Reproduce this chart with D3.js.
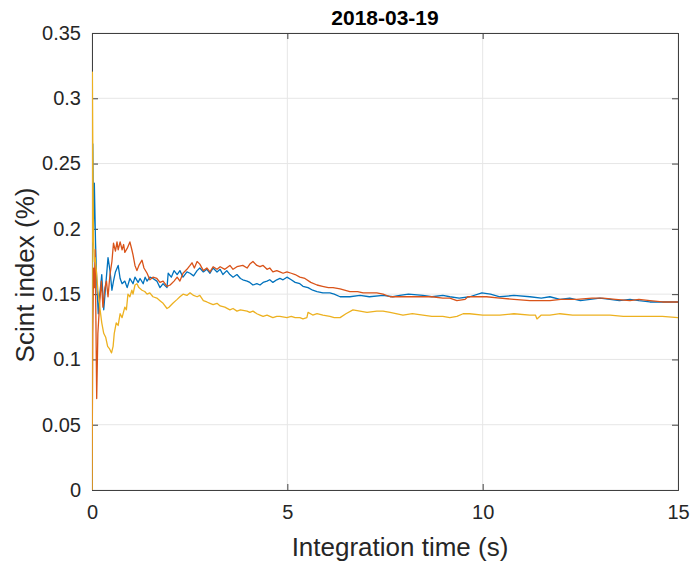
<!DOCTYPE html>
<html>
<head>
<meta charset="utf-8">
<script src="https://cdn.jsdelivr.net/npm/d3@7"></script>
<style>
  body { margin: 0; background: #fff; }
  svg { display: block; }
  text { font-family: "Liberation Sans", Arial, Helvetica, sans-serif; }
</style>
</head>
<body>
<svg id="chart" width="692" height="562"></svg>
<script>
const titleText = "2018-03-19";
const xLabel = "Integration time (s)";
const yLabel = "Scint index (%)";
const xTicks = [0, 5, 10, 15];
const yTicks = [0, 0.05, 0.1, 0.15, 0.2, 0.25, 0.3, 0.35];
const seriesNames = ["blue", "orange", "yellow"];

const blueSeries = [[0,0],[0.02,0.265],[0.04,0.2],[0.06,0.235],[0.09,0.19],[0.12,0.16],[0.16,0.135],[0.2,0.15],[0.25,0.165],[0.3,0.138],[0.36,0.16],[0.41,0.178],[0.46,0.168],[0.51,0.153],[0.55,0.16],[0.6,0.167],[0.67,0.172],[0.72,0.162],[0.77,0.158],[0.84,0.16],[0.9,0.155],[0.97,0.162],[1.05,0.158],[1.1,0.163],[1.18,0.159],[1.23,0.162],[1.31,0.158],[1.36,0.163],[1.41,0.16],[1.48,0.163],[1.56,0.162],[1.66,0.16],[1.74,0.155],[1.82,0.158],[1.92,0.155],[1.95,0.166],[2.03,0.163],[2.1,0.168],[2.18,0.165],[2.25,0.168],[2.33,0.163],[2.43,0.167],[2.51,0.166],[2.6,0.164],[2.69,0.168],[2.76,0.17],[2.85,0.167],[2.94,0.169],[3.02,0.166],[3.1,0.17],[3.2,0.167],[3.28,0.169],[3.35,0.165],[3.45,0.168],[3.53,0.165],[3.61,0.163],[3.71,0.165],[3.8,0.162],[3.86,0.161],[3.97,0.16],[4.04,0.159],[4.12,0.157],[4.22,0.158],[4.3,0.157],[4.38,0.159],[4.48,0.16],[4.55,0.161],[4.63,0.159],[4.73,0.161],[4.81,0.162],[4.89,0.161],[4.99,0.163],[5.1,0.161],[5.2,0.159],[5.32,0.158],[5.4,0.156],[5.53,0.155],[5.65,0.153],[5.76,0.152],[5.91,0.151],[6.09,0.151],[6.2,0.15],[6.35,0.148],[6.6,0.148],[6.86,0.149],[7.1,0.148],[7.45,0.149],[7.7,0.148],[7.88,0.149],[8.1,0.15],[8.47,0.149],[8.7,0.148],[8.98,0.149],[9.16,0.148],[9.4,0.147],[9.67,0.148],[9.98,0.151],[10.2,0.15],[10.44,0.148],[10.8,0.149],[11.21,0.148],[11.5,0.147],[11.72,0.148],[11.98,0.146],[12.23,0.147],[12.5,0.145],[12.75,0.146],[13.0,0.147],[13.26,0.146],[13.5,0.145],[13.77,0.146],[14.0,0.145],[14.28,0.144],[14.6,0.144],[15,0.144]];

const orangeSeries = [[0,0],[0.02,0.12],[0.04,0.17],[0.06,0.155],[0.08,0.184],[0.1,0.13],[0.12,0.07],[0.15,0.12],[0.2,0.145],[0.24,0.16],[0.28,0.14],[0.33,0.155],[0.37,0.16],[0.41,0.148],[0.46,0.165],[0.51,0.175],[0.55,0.189],[0.6,0.183],[0.64,0.19],[0.67,0.184],[0.72,0.19],[0.77,0.184],[0.81,0.188],[0.84,0.182],[0.9,0.185],[0.97,0.19],[1.02,0.184],[1.05,0.18],[1.1,0.172],[1.15,0.168],[1.2,0.172],[1.28,0.176],[1.33,0.17],[1.41,0.166],[1.48,0.161],[1.56,0.163],[1.66,0.162],[1.74,0.159],[1.82,0.16],[1.92,0.156],[2.0,0.157],[2.1,0.16],[2.18,0.163],[2.25,0.16],[2.33,0.166],[2.43,0.169],[2.51,0.172],[2.56,0.174],[2.62,0.17],[2.69,0.175],[2.76,0.173],[2.85,0.168],[2.94,0.17],[3.02,0.167],[3.1,0.171],[3.2,0.169],[3.28,0.171],[3.4,0.169],[3.53,0.172],[3.61,0.169],[3.71,0.171],[3.86,0.172],[3.97,0.17],[4.04,0.173],[4.12,0.175],[4.22,0.172],[4.3,0.171],[4.38,0.172],[4.48,0.169],[4.55,0.17],[4.63,0.167],[4.73,0.168],[4.81,0.167],[4.89,0.166],[4.99,0.167],[5.1,0.166],[5.2,0.165],[5.32,0.163],[5.45,0.162],[5.6,0.159],[5.76,0.157],[5.9,0.156],[6.05,0.155],[6.17,0.155],[6.35,0.154],[6.6,0.152],[6.8,0.152],[6.94,0.151],[7.1,0.151],[7.29,0.151],[7.45,0.15],[7.63,0.148],[7.88,0.148],[8.06,0.148],[8.47,0.148],[8.7,0.148],[8.98,0.147],[9.16,0.147],[9.34,0.145],[9.55,0.146],[9.62,0.148],[9.8,0.148],[10.1,0.148],[10.44,0.147],[10.8,0.146],[11.21,0.145],[11.5,0.145],[11.72,0.145],[12.0,0.146],[12.41,0.146],[12.8,0.147],[13.08,0.147],[13.4,0.146],[13.77,0.145],[14.0,0.146],[14.28,0.145],[14.6,0.144],[15,0.144]];

const yellowSeries = [[0,0],[0.01,0.32],[0.025,0.24],[0.04,0.19],[0.06,0.175],[0.08,0.178],[0.12,0.165],[0.15,0.153],[0.2,0.14],[0.25,0.128],[0.3,0.12],[0.35,0.117],[0.4,0.11],[0.45,0.108],[0.5,0.105],[0.54,0.11],[0.57,0.12],[0.62,0.128],[0.67,0.126],[0.72,0.135],[0.77,0.132],[0.84,0.14],[0.88,0.138],[0.92,0.15],[0.97,0.148],[1.02,0.153],[1.05,0.15],[1.1,0.157],[1.15,0.158],[1.2,0.155],[1.28,0.153],[1.35,0.152],[1.41,0.15],[1.48,0.151],[1.56,0.148],[1.66,0.147],[1.74,0.145],[1.82,0.143],[1.92,0.139],[1.97,0.14],[2.07,0.143],[2.18,0.146],[2.25,0.148],[2.33,0.15],[2.43,0.149],[2.51,0.151],[2.6,0.149],[2.69,0.148],[2.76,0.149],[2.85,0.145],[2.94,0.144],[3.02,0.143],[3.1,0.142],[3.2,0.143],[3.28,0.141],[3.4,0.14],[3.53,0.138],[3.61,0.139],[3.71,0.137],[3.8,0.138],[3.97,0.137],[4.04,0.136],[4.12,0.137],[4.22,0.135],[4.3,0.134],[4.38,0.133],[4.48,0.134],[4.63,0.132],[4.73,0.133],[4.81,0.133],[4.99,0.132],[5.1,0.133],[5.2,0.132],[5.32,0.132],[5.4,0.131],[5.5,0.132],[5.53,0.136],[5.65,0.134],[5.76,0.135],[5.91,0.134],[6.09,0.133],[6.2,0.132],[6.35,0.132],[6.5,0.135],[6.68,0.138],[6.86,0.137],[7.04,0.136],[7.29,0.137],[7.45,0.137],[7.63,0.136],[7.96,0.134],[8.2,0.135],[8.47,0.134],[8.7,0.133],[8.98,0.133],[9.16,0.132],[9.34,0.133],[9.5,0.135],[9.67,0.135],[10.0,0.134],[10.44,0.134],[10.8,0.135],[11.21,0.134],[11.35,0.134],[11.39,0.131],[11.5,0.134],[11.72,0.134],[11.98,0.135],[12.3,0.134],[12.57,0.134],[12.9,0.134],[13.26,0.134],[13.6,0.133],[13.95,0.133],[14.3,0.133],[14.6,0.133],[15,0.132]];

const colors = { blue: "#0072BD", orange: "#D95319", yellow: "#EDB120" };
const seriesData = { blue: blueSeries, orange: orangeSeries, yellow: yellowSeries };

const W = 692, H = 562;
const m = { left: 92, right: 14, top: 33, bottom: 72 };
const iw = W - m.left - m.right, ih = H - m.top - m.bottom;

const svg = d3.select("#chart");
const g = svg.append("g").attr("transform", `translate(${m.left},${m.top})`);

const x = d3.scaleLinear().domain([0, 15]).range([0, iw]);
const y = d3.scaleLinear().domain([0, 0.35]).range([ih, 0]);

// grid
g.append("g").selectAll("line").data(xTicks).join("line")
  .attr("x1", d => x(d)).attr("x2", d => x(d)).attr("y1", 0).attr("y2", ih)
  .attr("stroke", "#e6e6e6").attr("stroke-width", 1);
g.append("g").selectAll("line").data(yTicks).join("line")
  .attr("y1", d => y(d)).attr("y2", d => y(d)).attr("x1", 0).attr("x2", iw)
  .attr("stroke", "#e6e6e6").attr("stroke-width", 1);

// lines
const line = d3.line().x(d => x(d[0])).y(d => y(d[1]));
svg.append("clipPath").attr("id", "clip").append("rect")
  .attr("x", m.left).attr("y", m.top).attr("width", iw).attr("height", ih);
const linesG = svg.append("g").attr("clip-path", "url(#clip)")
  .append("g").attr("transform", `translate(${m.left},${m.top})`);
seriesNames.forEach(n => {
  linesG.append("path").datum(seriesData[n])
    .attr("fill", "none").attr("stroke", colors[n]).attr("stroke-width", 1.3)
    .attr("stroke-linejoin", "round").attr("d", line);
});

// axes
const axColor = "#404040";
const fmt = d => d === 0 ? "0" : d3.format("~g")(d);
const xAxis = g.append("g").attr("transform", `translate(0,${ih})`)
  .call(d3.axisBottom(x).tickValues(xTicks).tickSize(-6).tickPadding(15).tickFormat(fmt));
const yAxis = g.append("g")
  .call(d3.axisLeft(y).tickValues(yTicks).tickSize(-6).tickPadding(11).tickFormat(fmt));
const xTop = g.append("g")
  .call(d3.axisTop(x).tickValues(xTicks).tickSize(-6).tickFormat(""));
const yRight = g.append("g").attr("transform", `translate(${iw},0)`)
  .call(d3.axisRight(y).tickValues(yTicks).tickSize(-6).tickFormat(""));
[xAxis, yAxis, xTop, yRight].forEach(a => {
  a.select(".domain").attr("stroke", axColor);
  a.selectAll(".tick line").attr("stroke", axColor);
  a.selectAll(".tick text").attr("fill", "#262626").style("font-size", "20px")
    .style("font-family", '"Liberation Sans", Arial, sans-serif');
});

// title & labels
svg.append("text").attr("x", m.left + iw / 2).attr("y", 25).attr("text-anchor", "middle")
  .style("font-size", "21px").style("font-weight", "bold").attr("fill", "#000").text(titleText);
svg.append("text").attr("x", 400).attr("y", 556).attr("text-anchor", "middle")
  .style("font-size", "26px").attr("fill", "#262626").text(xLabel);
svg.append("text").attr("transform", `translate(34,275) rotate(-90)`)
  .attr("text-anchor", "middle").style("font-size", "26px").attr("fill", "#262626").text(yLabel);
</script>
</body>
</html>
